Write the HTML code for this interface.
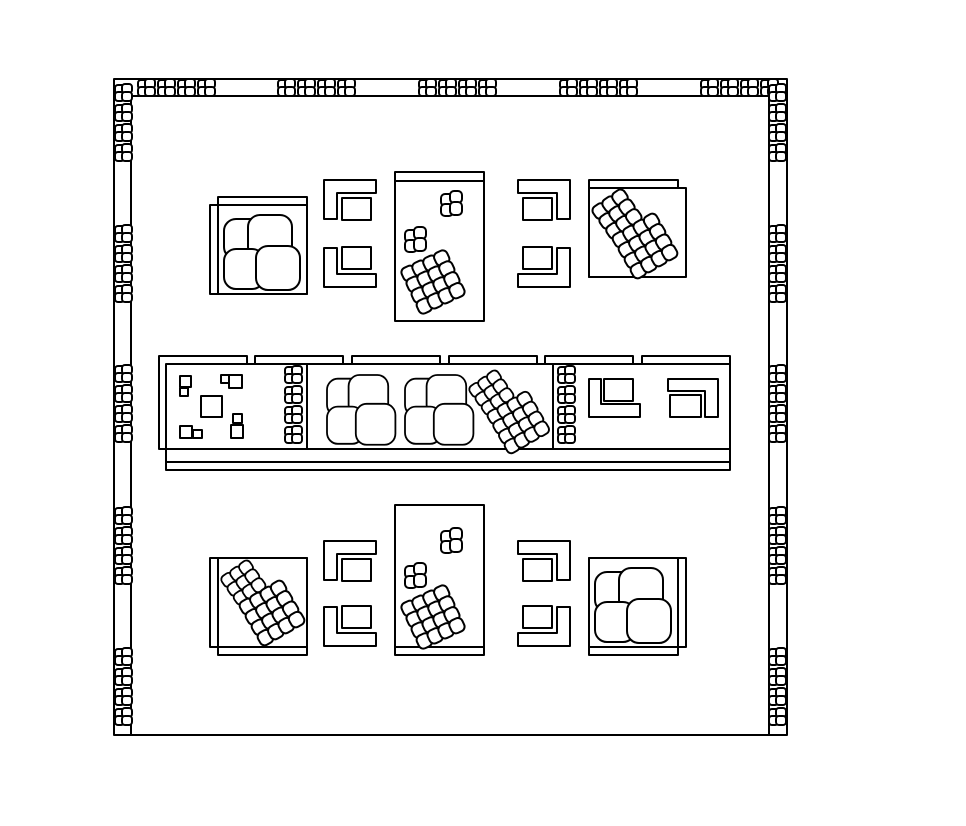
<!DOCTYPE html>
<html><head><meta charset="utf-8"><style>html,body{margin:0;padding:0;background:#fff}svg{display:block}</style></head>
<body>
<svg width="966" height="826" viewBox="0 0 966 826" xmlns="http://www.w3.org/2000/svg" fill="#fff" stroke="#000" stroke-width="2" stroke-linejoin="round">
<defs>
<g id="pc">
<rect x="1" y="1" width="10" height="9" rx="3"/>
<rect x="8" y="0" width="10" height="9" rx="3"/>
<rect x="1" y="8" width="9" height="9" rx="3"/>
<rect x="8" y="8" width="10" height="9" rx="3"/>
</g>
<g id="sp">
<rect x="0" y="3" width="12" height="12" rx="4"/>
<rect x="9" y="0" width="12" height="12" rx="4"/>
<rect x="0" y="13" width="12" height="12" rx="4"/>
<rect x="9" y="11" width="12" height="13" rx="4"/>
</g>
<g id="big">
<rect x="0" y="4" width="42" height="40" rx="12"/>
<rect x="24" y="0" width="44" height="44" rx="12"/>
<rect x="0" y="34" width="40" height="40" rx="12"/>
<rect x="32" y="31" width="44" height="44" rx="12"/>
</g>
<g id="r3">
<rect x="0" y="0" width="14" height="14" rx="5"/><rect x="12" y="0" width="14" height="14" rx="5"/><rect x="24" y="0" width="14" height="14" rx="5"/>
<rect x="0" y="12" width="14" height="14" rx="5"/><rect x="12" y="12" width="14" height="14" rx="5"/><rect x="24" y="12" width="14" height="14" rx="5"/>
<rect x="0" y="24" width="14" height="14" rx="5"/><rect x="12" y="24" width="14" height="14" rx="5"/><rect x="24" y="24" width="14" height="14" rx="5"/>
</g>
<g id="r4">
<rect x="0" y="0" width="14" height="14" rx="5"/><rect x="12" y="0" width="14" height="14" rx="5"/><rect x="24" y="0" width="14" height="14" rx="5"/><rect x="36" y="0" width="14" height="14" rx="5"/>
<rect x="0" y="12" width="14" height="14" rx="5"/><rect x="12" y="12" width="14" height="14" rx="5"/><rect x="24" y="12" width="14" height="14" rx="5"/><rect x="36" y="12" width="14" height="14" rx="5"/>
<rect x="0" y="24" width="14" height="14" rx="5"/><rect x="12" y="24" width="14" height="14" rx="5"/><rect x="24" y="24" width="14" height="14" rx="5"/><rect x="36" y="24" width="14" height="14" rx="5"/>
<rect x="0" y="36" width="14" height="14" rx="5"/><rect x="12" y="36" width="14" height="14" rx="5"/><rect x="24" y="36" width="14" height="14" rx="5"/><rect x="36" y="36" width="14" height="14" rx="5"/>
</g>
<g id="chair">
<path d="M0 0 H52 V13 H13 V39 H0 Z"/>
<rect x="18" y="18" width="29" height="22"/>
</g>
<g id="cL4"><use href="#pc" x="0"/><use href="#pc" x="20"/><use href="#pc" x="40"/><use href="#pc" x="60"/></g>
<g id="cV4"><use href="#pc" y="0"/><use href="#pc" y="20"/><use href="#pc" y="40"/><use href="#pc" y="60"/></g>
</defs>

<!-- border -->
<rect x="114" y="79" width="673" height="656"/>
<path d="M131 735 V96 H769 V735" fill="none"/>
<use href="#cL4" x="137" y="79"/><use href="#cL4" x="277" y="79"/><use href="#cL4" x="418" y="79"/><use href="#cL4" x="559" y="79"/><use href="#cL4" x="700" y="79"/>
<use href="#cV4" x="114" y="84"/><use href="#cV4" x="114" y="225"/><use href="#cV4" x="114" y="365"/><use href="#cV4" x="114" y="507"/><use href="#cV4" x="114" y="648"/>
<use href="#cV4" x="768" y="84"/><use href="#cV4" x="768" y="225"/><use href="#cV4" x="768" y="365"/><use href="#cV4" x="768" y="507"/><use href="#cV4" x="768" y="648"/>

<!-- top row -->
<rect x="210" y="205" width="97" height="89"/>
<rect x="218" y="197" width="89" height="97"/>
<line x1="218" y1="205" x2="307" y2="205"/>
<use href="#big" x="224" y="215"/>
<use href="#chair" transform="translate(324,180)"/>
<use href="#chair" transform="translate(324,287) scale(1,-1)"/>
<use href="#chair" transform="translate(570,180) scale(-1,1)"/>
<use href="#chair" transform="translate(570,287) scale(-1,-1)"/>
<rect x="395" y="172" width="89" height="149"/>
<line x1="395" y1="181" x2="484" y2="181"/>
<use href="#sp" x="441" y="191"/>
<use href="#sp" x="405" y="227"/>
<use href="#r4" transform="translate(433,282) rotate(-25) translate(-25,-25)"/>
<rect x="589" y="180" width="89" height="97"/>
<rect x="589" y="188" width="97" height="89"/>
<line x1="589" y1="188" x2="678" y2="188"/>
<use href="#r3" transform="translate(617,214) rotate(-35) translate(-19,-19)"/>
<use href="#r4" transform="translate(645,246) rotate(-30) translate(-25,-25)"/>

<!-- middle bench -->
<rect x="159" y="356" width="88" height="93"/>
<rect x="255" y="356" width="88" height="9"/>
<rect x="352" y="356" width="88" height="9"/>
<rect x="449" y="356" width="88" height="9"/>
<rect x="545" y="356" width="88" height="9"/>
<rect x="642" y="356" width="88" height="9"/>
<rect x="166" y="364" width="564" height="85"/>
<rect x="166" y="449" width="564" height="13"/>
<rect x="166" y="462" width="564" height="8"/>
<line x1="307" y1="364" x2="307" y2="449"/>
<line x1="553" y1="364" x2="553" y2="449"/>
<rect x="180" y="376" width="11" height="11"/><rect x="180" y="388" width="8" height="8"/>
<rect x="221" y="375" width="8" height="8"/><rect x="229" y="375" width="13" height="13"/>
<rect x="201" y="396" width="21" height="21"/>
<rect x="233" y="414" width="9" height="9"/><rect x="231" y="425" width="12" height="13"/>
<rect x="180" y="426" width="12" height="12"/><rect x="193" y="430" width="9" height="8"/>
<use href="#cV4" x="284" y="366"/>
<use href="#cV4" x="557" y="366"/>
<use href="#big" transform="translate(327,375) scale(0.9,0.93)"/>
<use href="#big" transform="translate(405,375) scale(0.9,0.93)"/>
<use href="#r3" transform="translate(494,393) rotate(-35) translate(-19,-19) scale(0.9)"/>
<use href="#r4" transform="translate(520,423) rotate(-30) translate(-25,-25) scale(0.95)"/>
<path d="M589 379 H601 V404 H640 V417 H589 Z"/>
<rect x="604" y="379" width="29" height="22"/>
<path d="M668 379 H718 V417 H705 V391 H668 Z"/>
<rect x="670" y="395" width="31" height="22"/>

<!-- bottom row -->
<rect x="210" y="558" width="97" height="89"/>
<rect x="218" y="558" width="89" height="97"/>
<line x1="218" y1="647" x2="307" y2="647"/>
<use href="#r3" transform="translate(246,583) rotate(-35) translate(-19,-19) scale(0.9)"/>
<use href="#r4" transform="translate(272,613) rotate(-30) translate(-25,-25)"/>
<use href="#chair" transform="translate(324,541)"/>
<use href="#chair" transform="translate(324,646) scale(1,-1)"/>
<use href="#chair" transform="translate(570,541) scale(-1,1)"/>
<use href="#chair" transform="translate(570,646) scale(-1,-1)"/>
<rect x="395" y="505" width="89" height="150"/>
<line x1="395" y1="647" x2="484" y2="647"/>
<use href="#sp" x="441" y="528"/>
<use href="#sp" x="405" y="563"/>
<use href="#r4" transform="translate(433,617) rotate(-25) translate(-25,-25)"/>
<rect x="589" y="558" width="97" height="89"/>
<rect x="589" y="558" width="89" height="97"/>
<line x1="589" y1="647" x2="678" y2="647"/>
<use href="#big" x="595" y="568"/>
</svg>
</body></html>
